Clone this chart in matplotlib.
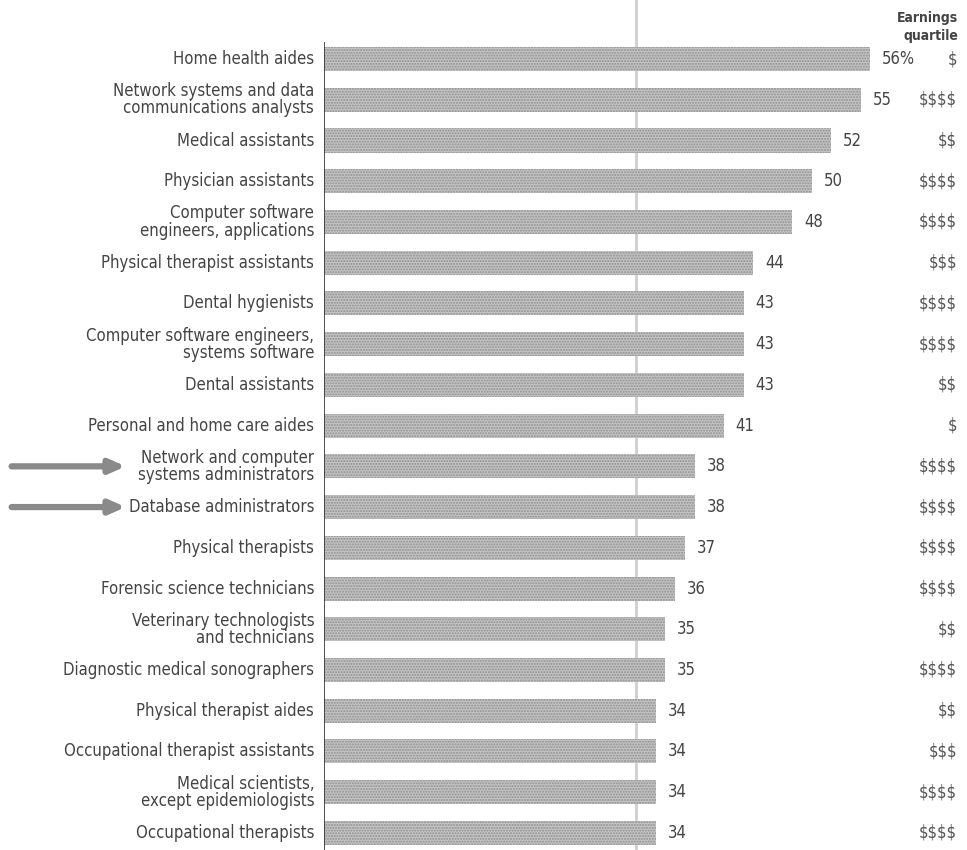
import matplotlib.pyplot as plt
from matplotlib.transforms import blended_transform_factory

# data (percent growth, earnings quartile)
occupations = [
    "Home health aides",
    "Network systems and data\ncommunications analysts",
    "Medical assistants",
    "Physician assistants",
    "Computer software\nengineers, applications",
    "Physical therapist assistants",
    "Dental hygienists",
    "Computer software engineers,\nsystems software",
    "Dental assistants",
    "Personal and home care aides",
    "Network and computer\nsystems administrators",
    "Database administrators",
    "Physical therapists",
    "Forensic science technicians",
    "Veterinary technologists\nand technicians",
    "Diagnostic medical sonographers",
    "Physical therapist aides",
    "Occupational therapist assistants",
    "Medical scientists,\nexcept epidemiologists",
    "Occupational therapists",
]
growth = [56, 55, 52, 50, 48, 44, 43, 43, 43, 41, 38, 38, 37, 36, 35, 35, 34, 34, 34, 34]
quartile = ["$", "$$$$", "$$", "$$$$", "$$$$", "$$$", "$$$$", "$$$$", "$$", "$",
            "$$$$", "$$$$", "$$$$", "$$$$", "$$", "$$$$", "$$", "$$$", "$$$$", "$$$$"]
highlighted = ["Network and computer\nsystems administrators", "Database administrators"]
fold_x = 32.0  # light vertical line across the page (scan fold)

TEXT = "#444444"

plt.rcParams["font.family"] = ["DejaVu Sans"]
plt.rcParams["font.stretch"] = "condensed"
plt.rcParams["text.parse_math"] = False

fig = plt.figure(figsize=(9.67, 8.5), dpi=100)
ax = fig.add_axes([0.335, 0.0, 0.665, 1.0])

y = list(range(len(occupations)))
ax.barh(y, growth, height=0.59, color="#c4c4c4", hatch="......",
        edgecolor="#909090", linewidth=0)

ax.axvline(fold_x, color="#cfcfcf", linewidth=2, zorder=0)
ax.vlines(0, -0.42, len(occupations) + 0.5, color="#333333", linewidth=1.2)

for i, (v, q) in enumerate(zip(growth, quartile)):
    txt = f"{v}%" if i == 0 else str(v)
    ax.text(v + 1.2, i, txt, ha="left", va="center", fontsize=12, color=TEXT)
    ax.text(64.9, i, q, ha="right", va="center", fontsize=12, color="#555555")

for i, name in enumerate(occupations):
    ax.text(-1.0, i, name, ha="right", va="center", fontsize=12, color=TEXT,
            linespacing=0.95)

ax.text(65.0, -0.4, "Earnings\nquartile", ha="right", va="bottom", fontsize=10,
        color=TEXT, fontweight="bold", linespacing=1.3)

# arrows pointing at the two highlighted rows
trans = blended_transform_factory(fig.transFigure, ax.transData)
for name in highlighted:
    i = occupations.index(name)
    ax.annotate("", xy=(0.13, i), xytext=(0.012, i),
                xycoords=trans, textcoords=trans,
                arrowprops=dict(arrowstyle="-|>,head_length=0.9,head_width=0.4",
                                color="#8a8a8a", linewidth=4.5, shrinkA=0, shrinkB=0),
                annotation_clip=False)

ax.set_xlim(0, 65.9)
ax.set_ylim(19.42, -1.45)
ax.axis("off")

fig.savefig("out.png", dpi=100, facecolor="white")
